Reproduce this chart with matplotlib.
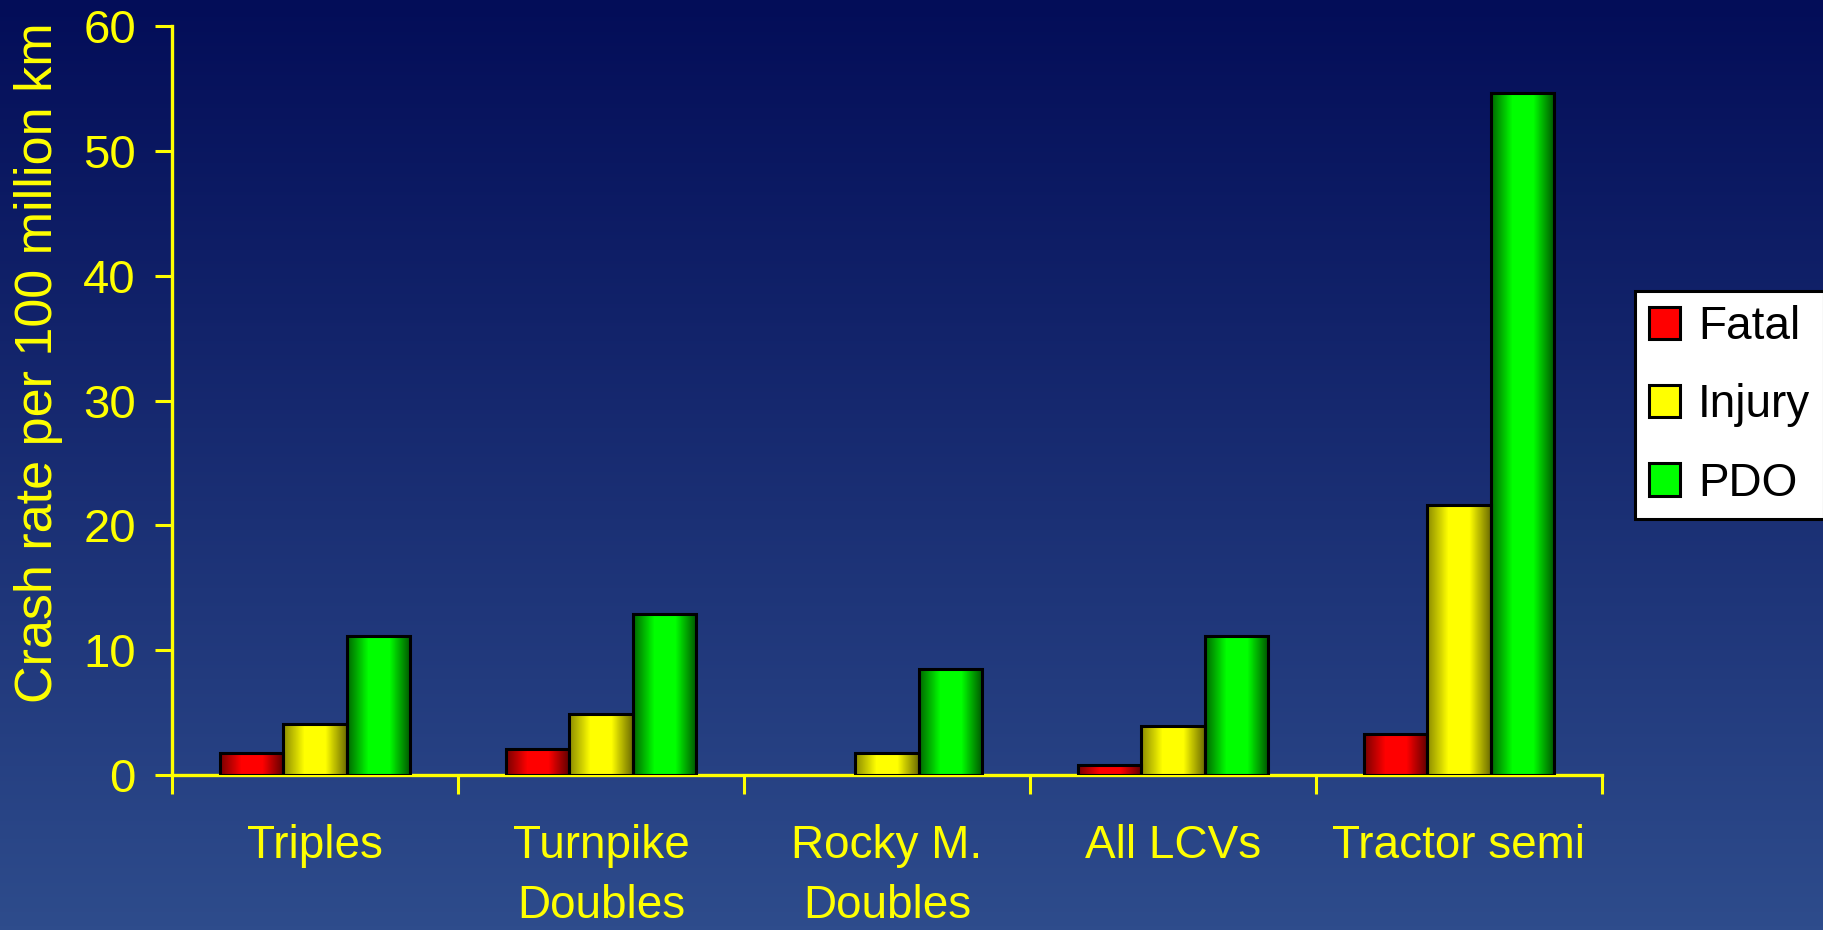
import numpy as np
import matplotlib
matplotlib.use("Agg")
import matplotlib.pyplot as plt
from matplotlib.colors import LinearSegmentedColormap
from matplotlib.patches import Patch

categories = ["Triples", "Turnpike\nDoubles", "Rocky M.\nDoubles", "All LCVs", "Tractor semi"]
fatal = [1.8, 2.1, 0.0, 0.8, 3.3]
injury = [4.1, 4.9, 1.8, 3.9, 21.6]
pdo = [11.1, 12.9, 8.5, 11.1, 54.6]
series_names = ["Fatal", "Injury", "PDO"]
yticks = [0, 10, 20, 30, 40, 50, 60]

plt.rcParams["font.family"] = ["Liberation Sans", "DejaVu Sans"]
YEL = "#ffff00"
FS = 33

fig = plt.figure(figsize=(18.23, 9.30), dpi=100)

# background gradient, dark navy at top -> lighter blue at bottom
bg = fig.add_axes([0, 0, 1, 1], zorder=-10)
top = np.array([3, 13, 88]) / 255
bot = np.array([46, 76, 140]) / 255
t = np.linspace(0, 1, 256)[:, None]
grad = top[None, None, :] * (1 - t[..., None]) + bot[None, None, :] * t[..., None]
bg.imshow(np.repeat(grad, 2, axis=1), aspect="auto", extent=[0, 1, 0, 1])
bg.axis("off")

ax = fig.add_axes([172 / 1823, 155 / 930, 1430 / 1823, 749 / 930])
ax.set_facecolor("none")

cmaps = [
    LinearSegmentedColormap.from_list("r", ["#7a0000", "#ff0000", "#ff0000", "#600000"]),
    LinearSegmentedColormap.from_list("y", ["#8c8c00", "#ffff00", "#ffff00", "#6e6e00"]),
    LinearSegmentedColormap.from_list("g", ["#006800", "#00ff00", "#00ff00", "#005400"]),
]
solid = ["#ff0000", "#ffff00", "#00ff00"]

x = np.arange(len(categories))
w = 0.222
shade = np.linspace(0, 1, 64)[None, :]
for i, vals in enumerate([fatal, injury, pdo]):
    bars = ax.bar(x + (i - 1) * w, vals, w, color=solid[i], edgecolor="none",
                  linewidth=0, zorder=3)
    for b in bars:
        h = b.get_height()
        if h <= 0:
            b.set_visible(False)
            continue
        x0 = b.get_x()
        im = ax.imshow(shade, cmap=cmaps[i], aspect="auto",
                       extent=[x0, x0 + b.get_width(), 0, h], zorder=3.5)
        im.set_clip_path(b)
        edge = plt.Rectangle((x0, 0), b.get_width(), h, fill=False,
                             edgecolor="black", linewidth=2.2, zorder=4)
        ax.add_patch(edge)

ax.set_xlim(-0.5, len(categories) - 0.5)
ax.set_ylim(0, 60)
ax.set_yticks(yticks)
ax.set_xticks(x)
ax.set_xticklabels(categories, linespacing=1.45)
ax.set_xticks(np.arange(-0.5, len(categories)), minor=True)

for s in ["top", "right"]:
    ax.spines[s].set_visible(False)
for s in ["left", "bottom"]:
    ax.spines[s].set_color(YEL)
    ax.spines[s].set_linewidth(2.4)

ax.tick_params(axis="y", colors=YEL, labelsize=34, length=12, width=2.2, pad=14)
ax.tick_params(axis="x", which="major", colors=YEL, labelsize=FS, length=0, pad=35.5)
ax.tick_params(axis="x", which="minor", colors=YEL, length=14, width=2.2)
ax.set_ylabel("Crash rate per 100 million km", color=YEL, fontsize=37.5)
ax.yaxis.set_label_coords(-0.076, 0.55)

handles = [Patch(facecolor=solid[i], edgecolor="black", linewidth=2.2) for i in range(3)]
leg = fig.legend(handles, series_names, loc="upper left",
                 bbox_to_anchor=(1635 / 1823, 1 - 291 / 930),
                 fontsize=FS, frameon=True, fancybox=False, framealpha=1,
                 edgecolor="black", handlelength=0.68, handleheight=0.7,
                 handletextpad=0.4, labelspacing=0.75, borderpad=0.3,
                 borderaxespad=0)
leg.get_frame().set_linewidth(2.2)

fig.savefig("out.png", dpi=100)
